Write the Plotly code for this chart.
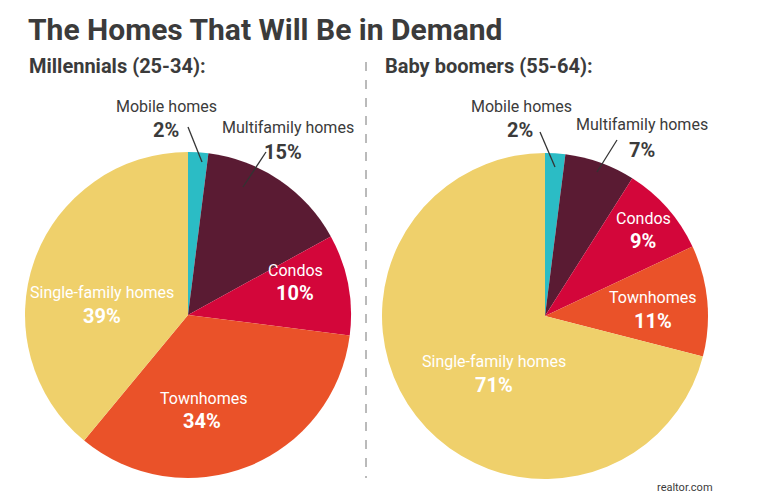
import plotly.graph_objects as go

W, H = 763, 503

categories = ["Mobile homes", "Multifamily homes", "Condos", "Townhomes", "Single-family homes"]
millennials = [2, 15, 10, 34, 39]
boomers = [2, 7, 9, 11, 71]
colors = ["#2BBCC5", "#5A1B33", "#D3063A", "#EA5229", "#EFD06B"]

title = "The Homes That Will Be in Demand"
subtitles = ["Millennials (25-34):", "Baby boomers (55-64):"]
source = "realtor.com"

FONT = "Roboto, Liberation Sans, sans-serif"
DARK = "#3b3b3b"

def px(x):
    return x / W

def py(y):
    return 1 - y / H

fig = go.Figure()
# pie boxes in pixels (left, top, right, bottom)
boxes = [(25, 152, 351, 478), (382, 153, 708, 479)]
for vals, box, name in zip([millennials, boomers], boxes, subtitles):
    l, t, r, b = box
    fig.add_trace(go.Pie(
        labels=categories, values=vals, name=name,
        marker=dict(colors=colors, line=dict(width=0)),
        sort=False, direction="clockwise", rotation=0,
        textinfo="none", hoverinfo="label+percent",
        domain=dict(x=[px(l), px(r)], y=[py(b), py(t)]),
        showlegend=False,
    ))

ann = []
ann.append(dict(text="<b>" + title + "</b>", x=px(26), y=py(30), xanchor="left", yanchor="middle",
                font=dict(size=30, color=DARK, family=FONT)))
ann.append(dict(text="<b>" + subtitles[0] + "</b>", x=px(27), y=py(66), xanchor="left", yanchor="middle",
                font=dict(size=20, color=DARK, family=FONT)))
ann.append(dict(text="<b>" + subtitles[1] + "</b>", x=px(383), y=py(66), xanchor="left", yanchor="middle",
                font=dict(size=20, color=DARK, family=FONT)))
ann.append(dict(text=source, x=px(685), y=py(487), xanchor="center", yanchor="middle",
                font=dict(size=11, color=DARK, family=FONT)))

# label positions (name center, percent center, color)
left_pos = [((166, 106), (166, 130), DARK), ((288, 128), (283, 152), DARK),
            ((295, 270), (295, 293), "white"), ((203, 398), (202, 421), "white"),
            ((102, 292), (102, 316), "white")]
right_pos = [((521, 106), (520, 130), DARK), ((642, 125), (642, 150), DARK),
             ((643, 218), (643, 241), "white"), ((652, 297), (653, 321), "white"),
             ((494, 361), (494, 385), "white")]

for vals, pos in [(millennials, left_pos), (boomers, right_pos)]:
    for cat, v, (p1, p2, c) in zip(categories, vals, pos):
        ann.append(dict(text=cat, x=px(p1[0]), y=py(p1[1]), xanchor="center", yanchor="middle",
                        font=dict(size=16, color=c, family=FONT)))
        ann.append(dict(text="<b>%d%%</b>" % v, x=px(p2[0]), y=py(p2[1]), xanchor="center", yanchor="middle",
                        font=dict(size=20, color=c, family=FONT)))

for a in ann:
    a.update(xref="paper", yref="paper", showarrow=False)

shapes = []
for (x0, y0, x1, y1) in [(188, 127, 202, 162), (266, 152, 243, 187),
                         (540, 132, 555, 167), (617, 140, 597, 172)]:
    shapes.append(dict(type="line", xref="paper", yref="paper", x0=px(x0), y0=py(y0), x1=px(x1), y1=py(y1),
                       line=dict(color="#333333", width=1.3)))
shapes.append(dict(type="line", xref="paper", yref="paper", x0=px(366), y0=py(62), x1=px(366), y1=py(478),
                   line=dict(color="#777777", width=1, dash="dash")))

fig.update_layout(
    width=W, height=H, autosize=False,
    margin=dict(l=0, r=0, t=0, b=0),
    paper_bgcolor="white", plot_bgcolor="white",
    annotations=ann, shapes=shapes,
)
fig.write_html("out.html", config={"displayModeBar": False},
               post_script="document.body.style.margin='0px';")
